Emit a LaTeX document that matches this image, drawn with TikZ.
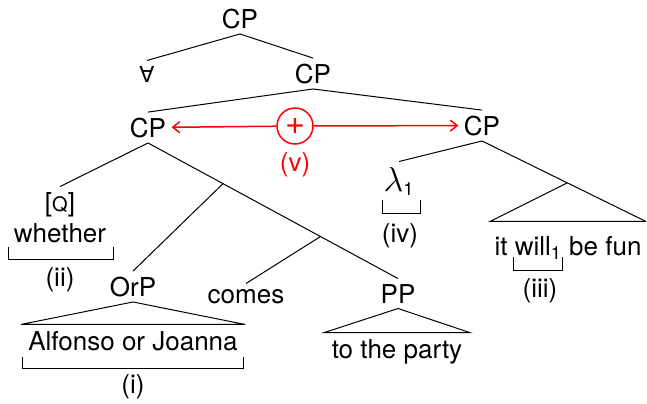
\documentclass[tikz,border=0pt]{standalone}
\usepackage{fontspec}
\setmainfont{TeX Gyre Heros}
\newfontfamily\symfont{DejaVu Sans}
\usetikzlibrary{calc,arrows.meta}

\begin{document}
\begin{tikzpicture}[x=0.5pt, y=-0.5pt, >={Straight Barb[length=3.5pt,width=5.5pt]}, line width=0.5pt,
  font=\fontsize{13}{15}\selectfont,
  lab/.style={inner sep=2.5pt, anchor=base},
  leaf/.style={inner xsep=3.5pt, inner ysep=3pt, anchor=base},
  link/.style={->, red, line width=0.75pt}]
\useasboundingbox (0,0) rectangle (647,403);
% upper spine
\node[lab] (cp0) at (240,28) {CP};
\node[lab] (all) at (147,82) {\symfont\fontsize{11}{13}\selectfont ∀};
\node[lab] (cp1) at (313,83) {CP};
\node[lab] (cpL) at (148,137) {CP};
\node[lab] (cpR) at (482,135) {CP};
\draw (cp0.south) -- (all.north);
\draw (cp0.south) -- (cp1.north);
\draw (cp1.south) -- (cpL.north);
\draw (cp1.south) -- (cpR.north);
% the red link
\node[circle, draw=red, line width=0.75pt, minimum size=18pt, inner sep=0pt, text=red,
  font=\fontsize{17}{17}\selectfont] (plus) at (295,126) {+};
\node[red] (v) at (295,165) {(v)};
\draw[link] (plus) -- (cpL);
\draw[link] (plus) -- (cpR);
% left subtree
\node[lab] (q) at (60,211) {[{\fontsize{10}{12}\selectfont Q}]};
\node[lab] (wh) at (60,242) {whether};
\node[lab] (orp) at (133,296) {OrP};
\node[leaf] (alf) at (133,350) {Alfonso or Joanna};
\node[lab] (comes) at (246,303) {comes};
\node[lab] (pp) at (398,303) {PP};
\node[leaf] (party) at (397,358) {to the party};
\coordinate (x1) at ($(cpL.south)!0.3!(pp.north)$);
\coordinate (x2) at ($(cpL.south)!0.69!(pp.north)$);
\draw (cpL.south) -- (q.north);
\draw (cpL.south) -- (pp.north);
\draw (x1) -- (orp.north);
\draw (x2) -- (comes.north);
\draw (orp.south) -- (alf.north west) -- (alf.north east) -- cycle;
\draw (pp.south) -- (party.north west) -- (party.north east) -- cycle;
% brackets (ii), (i)
\draw (8,247) -- (8,259) -- (113,259) -- (113,247);
\node (ii) at (60,280) {(ii)};
\draw (22,357) -- (22,368) -- (243,368) -- (243,357);
\node (i) at (133,387) {(i)};
% right subtree
\node[lab] (lam) at (399,191) {{\fontsize{18}{20}\selectfont$\lambda$}\textsubscript{1}};
\node[leaf, inner xsep=2pt, inner ysep=7pt] (fun) at (568,255) {it will\textsubscript{1} be fun};
\coordinate (z) at ($(cpR.south)!0.52!(fun.north east)$);
\draw (cpR.south) -- (lam.north);
\draw (cpR.south) -- (fun.north east);
\draw (z) -- (fun.north west) -- (fun.north east);
% brackets (iv), (iii)
\draw (382,200) -- (382,213) -- (420,213) -- (420,200);
\node (iv) at (400,236) {(iv)};
\draw (513,257) -- (513,270) -- (562,270) -- (562,257);
\node (iii) at (540,291) {(iii)};
\end{tikzpicture}
\end{document}
